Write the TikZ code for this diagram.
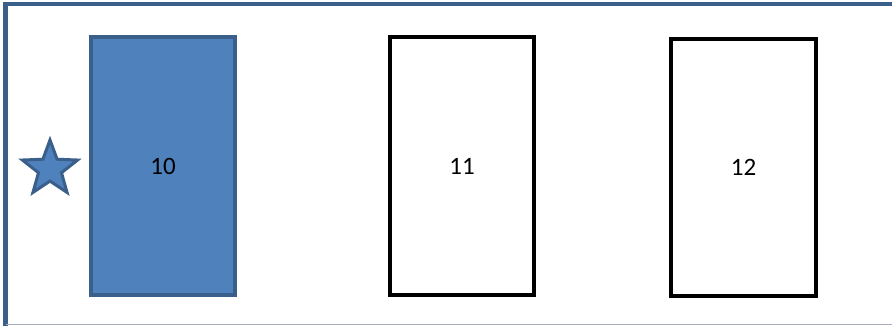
\documentclass[tikz,border=0pt]{standalone}
\usepackage{fontspec}
\setmainfont{Carlito}
\usetikzlibrary{shapes.geometric}
\definecolor{frameblue}{HTML}{3A5F8B}
\definecolor{fillblue}{HTML}{4F81BD}
\definecolor{lightgray}{HTML}{A8ADBF}
\tikzset{
  box/.style={draw=black, line width=4.5pt, fill=white, minimum width=144pt, minimum height=258pt, inner sep=0pt, font=\fontsize{25}{30}\selectfont},
  bluebox/.style={box, draw=frameblue, fill=fillblue},
}
\begin{document}
\begin{tikzpicture}[x=1pt,y=1pt]
\useasboundingbox (0,0) rectangle (892,326);
\fill[white] (0,0) rectangle (892,326);
% frame
\draw[frameblue, line width=4.5pt] (5.5,0) -- (5.5,322) -- (892,322);
\draw[lightgray, line width=1pt] (5.5,1) -- (892,1);
% boxes
\node[bluebox] (b10) at (163,160) {10};
\node[box] (b11) at (462,160) {11};
\node[box, minimum width=145pt, minimum height=257pt] (b12) at (743.5,158.5) {12};
% star
\node[star, star points=5, star point ratio=2.4, minimum size=58pt, inner sep=0pt, fill=fillblue, draw=frameblue, line width=3pt] (st) at (50,157) {};
\end{tikzpicture}
\end{document}
